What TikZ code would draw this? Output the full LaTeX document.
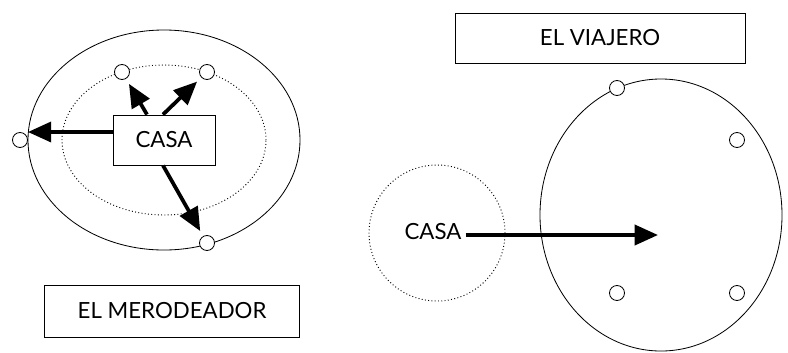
\documentclass[tikz,border=0pt]{standalone}
\usepackage{fontspec}
\setmainfont{Lato}
\usetikzlibrary{arrows.meta, positioning, calc}

\begin{document}
\begin{tikzpicture}[
    x=0.03cm, y=-0.03cm,
    every node/.style={font=\fontsize{19}{22}\selectfont},
    caja/.style={rectangle, draw, line width=0.8pt, inner sep=0pt},
    punto/.style={circle, draw, line width=0.7pt, fill=white, minimum size=0.45cm, inner sep=0pt},
    flecha/.style={line width=3.2pt, -{Triangle[length=0.7cm, width=0.6cm]}, shorten >=5pt}
    ]
    \useasboundingbox (0,0) rectangle (788,352);

    % El merodeador
    \draw[line width=0.7pt] (164,140) ellipse [x radius=4.08cm, y radius=3.3cm];
    \draw[dotted, line width=0.8pt] (164,140) ellipse [x radius=3.06cm, y radius=2.25cm];
    \node[caja, minimum width=3.06cm, minimum height=1.5cm] (casa) at (164,140) {CASA};
    \node[punto] (p1) at (20,140) {};
    \node[punto] (p2) at (122,72) {};
    \node[punto] (p3) at (207,72) {};
    \node[punto] (p4) at (207,243) {};
    \node[caja, minimum width=7.65cm, minimum height=1.56cm] (merodeador) at (172,311) {EL MERODEADOR};

    % El viajero
    \node[caja, minimum width=8.7cm, minimum height=1.5cm] (viajero) at (600,38) {EL VIAJERO};
    \draw[line width=0.7pt] (661,215) ellipse [x radius=3.63cm, y radius=4.08cm];
    \draw[dotted, line width=0.8pt] (437,233) circle [radius=2.04cm];
    \node (casa2) at (433,232) {CASA};
    \node[punto] (q1) at (617,88) {};
    \node[punto] (q2) at (737,140) {};
    \node[punto] (q3) at (617,293) {};
    \node[punto] (q4) at (737,293) {};
    \coordinate (destino) at (658,235);

    % Arrows
    \draw[flecha, shorten >=0pt] (casa.west |- 0,132) -- (p1.east |- 0,132);
    \draw[flecha] (casa.north -| 147,0) -- (p2);
    \draw[flecha] (casa.north -| 163,0) -- (p3);
    \draw[flecha] (casa.south -| 163,0) -- (p4);
    \draw[flecha, shorten >=0pt] (casa2.east |- destino) -- (destino);
\end{tikzpicture}
\end{document}
